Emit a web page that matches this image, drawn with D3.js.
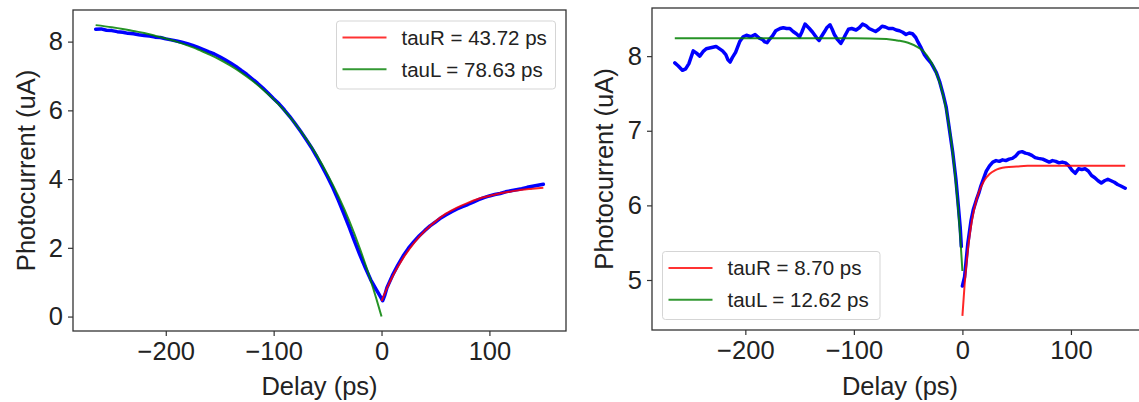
<!DOCTYPE html>
<html>
<head>
<meta charset="utf-8">
<script src="https://cdn.jsdelivr.net/npm/d3@7"></script>
<style>
  body { margin: 0; background: #fff; }
  svg { display: block; font-family: "Liberation Sans", Arial, sans-serif; }
</style>
</head>
<body>
<div id="chart"></div>
<script>
// ---- left panel data ----
var leftBlueX = [-265, -260, -255, -250, -245, -240, -235, -230, -225, -220, -215, -210, -205, -200, -195, -190, -185, -180, -175, -170,
                 -165, -160, -155, -150, -145, -140, -135, -130, -125, -120, -115, -110, -105, -100, -95, -90, -85, -80, -75, -70,
                 -65, -60, -55, -50, -45, -40, -35, -30, -25, -20, -15, -10, -5, -2, 0, 1, 3, 5, 10, 15, 20, 25, 30, 35, 40, 45, 50,
                 55, 60, 65, 70, 75, 80, 85, 90, 95, 100, 105, 110, 115, 120, 125, 130, 135, 140, 145, 150];
var leftBlueY = [8.36, 8.37, 8.33, 8.32, 8.29, 8.27, 8.24, 8.23, 8.20, 8.18, 8.16, 8.13, 8.12, 8.08, 8.05, 8.02, 7.98, 7.94, 7.89, 7.83,
                 7.77, 7.70, 7.64, 7.56, 7.47, 7.38, 7.28, 7.16, 7.05, 6.92, 6.79, 6.65, 6.50, 6.34, 6.19, 6.01, 5.82, 5.61, 5.39, 5.16,
                 4.92, 4.65, 4.36, 4.06, 3.74, 3.38, 3.00, 2.60, 2.19, 1.79, 1.42, 1.07, 0.79, 0.63, 0.52, 0.46, 0.62, 0.84, 1.19, 1.49, 1.76, 1.99, 2.18, 2.35, 2.50, 2.64, 2.75,
                 2.87, 2.96, 3.05, 3.13, 3.20, 3.26, 3.33, 3.40, 3.46, 3.51, 3.55, 3.58, 3.63, 3.66, 3.69, 3.72, 3.76, 3.79, 3.82, 3.85];
var leftRedX = [0, 5, 10, 15, 20, 30, 40, 50, 60, 70, 80, 90, 100, 110, 120, 130, 140, 150];
var leftRedY = [0.45, 0.82, 1.15, 1.44, 1.70, 2.14, 2.49, 2.77, 3.00, 3.17, 3.31, 3.43, 3.51, 3.59, 3.64, 3.69, 3.72, 3.75];
var leftGreenX = [-265, -250, -240, -230, -220, -210, -200, -190, -180, -170, -160, -150, -140, -130, -120, -110, -100,
                  -90, -80, -70, -60, -50, -40, -30, -20, -10, -5, 0];
var leftGreenY = [8.48, 8.42, 8.37, 8.31, 8.25, 8.17, 8.09, 8.00, 7.89, 7.77, 7.63, 7.48, 7.30, 7.10, 6.87, 6.61, 6.32,
                  5.99, 5.61, 5.18, 4.69, 4.13, 3.50, 2.79, 1.97, 1.05, 0.54, 0.00];

// ---- right panel data ----
var rightBlueLX = [-265, -262, -258, -255, -252, -248, -245, -242, -239, -236, -233, -230, -227, -224, -221, -218, -216, -214, -212, -209,
                   -205, -202, -199, -195, -191, -187, -184, -182, -180, -178, -175, -172, -168, -165, -162, -159, -156, -153, -150, -148,
                   -145, -143, -141, -138, -136, -134, -132, -130, -127, -125, -122, -120, -118, -115, -112, -110, -108, -105, -102, -98,
                   -95, -92, -89, -86, -83, -80, -77, -74, -71, -68, -64, -61, -58, -55, -52, -49, -46, -43, -41, -38, -35, -32, -29, -27,
                   -24, -21, -18, -15, -12, -9, -6, -4, -2, -1];
var rightBlueLY = [7.91, 7.87, 7.81, 7.83, 7.90, 8.07, 8.04, 8.00, 8.06, 8.10, 8.11, 8.12, 8.13, 8.10, 8.07, 8.02, 7.95, 7.92, 7.98, 8.05,
                   8.20, 8.26, 8.28, 8.26, 8.29, 8.24, 8.22, 8.19, 8.18, 8.22, 8.27, 8.34, 8.37, 8.38, 8.37, 8.37, 8.33, 8.30, 8.26, 8.32,
                   8.43, 8.40, 8.37, 8.32, 8.28, 8.24, 8.21, 8.26, 8.33, 8.38, 8.42, 8.36, 8.29, 8.22, 8.17, 8.22, 8.28, 8.36, 8.37, 8.35,
                   8.38, 8.43, 8.41, 8.37, 8.35, 8.33, 8.36, 8.40, 8.39, 8.37, 8.37, 8.35, 8.34, 8.32, 8.29, 8.31, 8.30, 8.25, 8.19, 8.11,
                   8.02, 7.96, 7.91, 7.86, 7.78, 7.66, 7.50, 7.32, 7.02, 6.72, 6.35, 6.03, 5.70, 5.45];
var rightBlueRX = [0, 2, 5, 8, 10, 13, 15, 17, 20, 22, 25, 28, 31, 34, 37, 40, 43, 46, 49, 52, 55, 58, 61, 64, 67, 70, 74, 77, 80,
                   83, 86, 89, 92, 95, 98, 101, 104, 107, 110, 113, 116, 119, 122, 125, 128, 131, 134, 137, 140, 143, 146, 150];
var rightBlueRY = [4.92, 5.04, 5.49, 5.80, 5.94, 6.08, 6.16, 6.26, 6.38, 6.46, 6.53, 6.58, 6.60, 6.59, 6.61, 6.60, 6.62, 6.63, 6.66, 6.71,
                   6.72, 6.70, 6.69, 6.67, 6.64, 6.63, 6.62, 6.60, 6.58, 6.60, 6.59, 6.57, 6.58, 6.57, 6.53, 6.47, 6.43, 6.49, 6.48,
                   6.49, 6.46, 6.40, 6.37, 6.33, 6.30, 6.33, 6.35, 6.33, 6.31, 6.28, 6.26, 6.23];
var rightRedX = [0, 2, 4, 6, 8, 10, 12, 15, 20, 25, 30, 40, 50, 60, 80, 100, 150];
var rightRedY = [4.52, 4.93, 5.26, 5.52, 5.73, 5.89, 6.02, 6.17, 6.33, 6.42, 6.47, 6.51, 6.52, 6.53, 6.53, 6.53, 6.53];
var rightGreenX = [-265, -100, -70, -60, -50, -40, -35, -30, -25, -20, -15, -10, -5, -2, 0];
var rightGreenY = [8.24, 8.24, 8.23, 8.21, 8.18, 8.11, 8.05, 7.95, 7.81, 7.60, 7.29, 6.83, 6.14, 5.58, 5.12];

// ---- tick labels / legend ----
var xTicks = [-200, -100, 0, 100];
var leftYTicks = [0, 2, 4, 6, 8];
var rightYTicks = [5, 6, 7, 8];
var leftLegend = ["tauR = 43.72 ps", "tauL = 78.63 ps"];
var rightLegend = ["tauR = 8.70 ps", "tauL = 12.62 ps"];

var svgWidth = 1139;
var svgHeight = 402;

var svg = d3.select("#chart")
            .append("svg")
            .attr("width", svgWidth)
            .attr("height", svgHeight);

svg.append("rect").attr("width", svgWidth).attr("height", svgHeight).attr("fill", "#fff");

function zip(xs, ys) {
    return xs.map((x, i) => [x, ys[i]]);
}

function drawPanel(p) {
    var g = svg.append("g").attr("transform", `translate(${p.left}, ${p.top})`);

    var xScale = d3.scaleLinear().domain([-286, 171]).range([0, p.width]);
    var yScale = d3.scaleLinear().domain(p.yDomain).range([p.height, 0]);

    var line = d3.line().x(d => xScale(d[0])).y(d => yScale(d[1]));
    var smooth = d3.line().x(d => xScale(d[0])).y(d => yScale(d[1])).curve(d3.curveMonotoneX);

    // blue data first
    p.blue.forEach(function(b) {
        g.append("path")
         .attr("d", line(b))
         .attr("fill", "none")
         .attr("stroke", "#0000ff")
         .attr("stroke-width", 3.5)
         .attr("stroke-linejoin", "round")
         .attr("stroke-linecap", "round");
    });

    g.append("path")
     .attr("d", smooth(p.red))
     .attr("fill", "none")
     .attr("stroke", "#ff0000")
     .attr("stroke-opacity", 0.85)
     .attr("stroke-width", 2);

    g.append("path")
     .attr("d", smooth(p.green))
     .attr("fill", "none")
     .attr("stroke", "#008000")
     .attr("stroke-opacity", 0.85)
     .attr("stroke-width", 2);

    // axes
    var xAxis = d3.axisBottom(xScale).tickValues(xTicks).tickSize(5).tickPadding(6)
                  .tickFormat(d => d < 0 ? "\u2212" + Math.abs(d) : d);
    var yAxis = d3.axisLeft(yScale).tickValues(p.yTicks).tickSize(5).tickPadding(5)
                  .tickFormat(d3.format("d"));

    var gx = g.append("g").attr("transform", `translate(0, ${p.height})`).call(xAxis);
    var gy = g.append("g").call(yAxis);
    [gx, gy].forEach(function(a) {
        a.select(".domain").remove();
        a.selectAll("line").attr("stroke", "#333").attr("stroke-width", 1.2);
        a.selectAll("text").attr("fill", "#222").style("font-size", "25.5px");
    });

    // frame
    g.append("rect")
     .attr("width", p.width).attr("height", p.height)
     .attr("fill", "none").attr("stroke", "#333").attr("stroke-width", 1.3);

    // axis labels
    svg.append("text")
       .attr("x", p.left + p.width / 2).attr("y", 395)
       .attr("text-anchor", "middle")
       .attr("fill", "#222")
       .style("font-size", "25.5px")
       .text("Delay (ps)");

    svg.append("text")
       .attr("transform", `translate(${p.ylabelX}, ${p.top + p.height / 2}) rotate(-90)`)
       .attr("text-anchor", "middle")
       .attr("fill", "#222")
       .style("font-size", "25.5px")
       .text("Photocurrent (uA)");

    // legend
    var lg = svg.append("g").attr("transform", `translate(${p.legend.x}, ${p.legend.y})`);
    lg.append("rect")
      .attr("width", p.legend.w).attr("height", 68)
      .attr("rx", 3)
      .attr("fill", "#fff").attr("fill-opacity", 0.8)
      .attr("stroke", "#d5d5d5").attr("stroke-width", 1);
    var colors = ["#ff0000", "#008000"];
    p.legendText.forEach(function(t, i) {
        var yy = 16.5 + i * 31.7;
        lg.append("line")
          .attr("x1", 6).attr("x2", 50).attr("y1", yy).attr("y2", yy)
          .attr("stroke", colors[i]).attr("stroke-opacity", 0.8).attr("stroke-width", 2);
        lg.append("text")
          .attr("x", 65).attr("y", yy).attr("dy", "0.36em")
          .attr("fill", "#222")
          .style("font-size", "20.5px")
          .text(t);
    });
}

drawPanel({
    left: 73, top: 10, width: 493, height: 321,
    yDomain: [-0.42, 8.92], yTicks: leftYTicks,
    blue: [zip(leftBlueX, leftBlueY)],
    red: zip(leftRedX, leftRedY),
    green: zip(leftGreenX, leftGreenY),
    ylabelX: 35,
    legend: { x: 336.5, y: 21, w: 219 },
    legendText: leftLegend
});

drawPanel({
    left: 652, top: 8, width: 496, height: 322,
    yDomain: [4.33, 8.645], yTicks: rightYTicks,
    blue: [zip(rightBlueLX, rightBlueLY), zip(rightBlueRX, rightBlueRY)],
    red: zip(rightRedX, rightRedY),
    green: zip(rightGreenX, rightGreenY),
    ylabelX: 613,
    legend: { x: 662.5, y: 251.5, w: 217.5 },
    legendText: rightLegend
});
</script>
</body>
</html>
